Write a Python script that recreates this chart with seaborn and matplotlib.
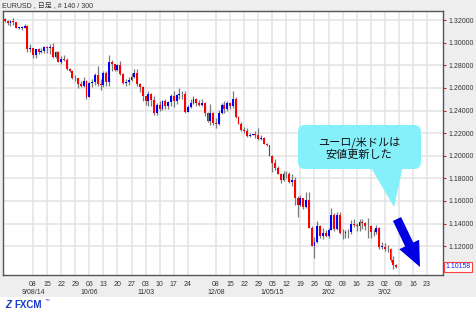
import numpy as np
import pandas as pd
import seaborn as sns
import matplotlib
matplotlib.use("Agg")
import matplotlib.pyplot as plt
from matplotlib.patches import FancyBboxPatch, Polygon, FancyArrow, Rectangle
from matplotlib import transforms

# ---------------- data (EUR/USD daily candles) ----------------
first_day = "2014-08-25"
opens = [1.3205, 1.3190, 1.3170, 1.3190, 1.3180, 1.3130, 1.3130, 1.3130, 1.3150, 1.2945,
         1.2950, 1.2895, 1.2940, 1.2920, 1.2925, 1.2960, 1.2950, 1.2960, 1.2870, 1.2920,
         1.2830, 1.2855, 1.2850, 1.2765, 1.2750, 1.2685, 1.2685, 1.2630, 1.2620, 1.2665,
         1.2515, 1.2645, 1.2650, 1.2710, 1.2630, 1.2625, 1.2735, 1.2650, 1.2825, 1.2810,
         1.2760, 1.2800, 1.2720, 1.2645, 1.2650, 1.2670, 1.2700, 1.2735, 1.2630, 1.2610,
         1.2525, 1.2480, 1.2545, 1.2490, 1.2375, 1.2450, 1.2410, 1.2480, 1.2440, 1.2475,
         1.2525, 1.2480, 1.2535, 1.2545, 1.2545, 1.2390, 1.2435, 1.2470, 1.2505, 1.2465,
         1.2450, 1.2470, 1.2380, 1.2310, 1.2380, 1.2290, 1.2285, 1.2380, 1.2450, 1.2410,
         1.2465, 1.2440, 1.2505, 1.2345, 1.2285, 1.2225, 1.2220, 1.2175, 1.2185, 1.2190,
         1.2185, 1.2150, 1.2155, 1.2100, 1.2095, 1.2000, 1.1935, 1.1890, 1.1840, 1.1790,
         1.1840, 1.1835, 1.1770, 1.1785, 1.1630, 1.1565, 1.1625, 1.1545, 1.1610, 1.1365,
         1.1205, 1.1240, 1.1380, 1.1290, 1.1320, 1.1290, 1.1345, 1.1480, 1.1350, 1.1475,
         1.1315, 1.1320, 1.1325, 1.1330, 1.1400, 1.1390, 1.1375, 1.1410, 1.1405, 1.1375,
         1.1380, 1.1325, 1.1330, 1.1365, 1.1195, 1.1195, 1.1180, 1.1175, 1.1075, 1.1030]
highs = [1.3215, 1.3200, 1.3200, 1.3222, 1.3185, 1.3140, 1.3145, 1.3165, 1.3160, 1.2990,
         1.2955, 1.2945, 1.2950, 1.2950, 1.2970, 1.2970, 1.2990, 1.2995, 1.2930, 1.2925,
         1.2880, 1.2895, 1.2865, 1.2775, 1.2760, 1.2715, 1.2690, 1.2665, 1.2700, 1.2670,
         1.2650, 1.2680, 1.2735, 1.2790, 1.2675, 1.2750, 1.2750, 1.2887, 1.2845, 1.2815,
         1.2815, 1.2840, 1.2735, 1.2680, 1.2700, 1.2730, 1.2765, 1.2770, 1.2645, 1.2615,
         1.2530, 1.2575, 1.2555, 1.2530, 1.2470, 1.2480, 1.2495, 1.2500, 1.2480, 1.2545,
         1.2575, 1.2545, 1.2600, 1.2570, 1.2575, 1.2450, 1.2500, 1.2530, 1.2510, 1.2490,
         1.2500, 1.2475, 1.2390, 1.2455, 1.2390, 1.2330, 1.2405, 1.2465, 1.2480, 1.2480,
         1.2475, 1.2570, 1.2515, 1.2350, 1.2295, 1.2250, 1.2245, 1.2200, 1.2195, 1.2220,
         1.2245, 1.2185, 1.2165, 1.2110, 1.2095, 1.2010, 1.1970, 1.1905, 1.1850, 1.1865,
         1.1865, 1.1860, 1.1840, 1.1810, 1.1645, 1.1650, 1.1630, 1.1680, 1.1680, 1.1375,
         1.1280, 1.1425, 1.1385, 1.1365, 1.1345, 1.1365, 1.1535, 1.1495, 1.1500, 1.1500,
         1.1350, 1.1340, 1.1350, 1.1430, 1.1445, 1.1405, 1.1445, 1.1445, 1.1415, 1.1450,
         1.1390, 1.1355, 1.1390, 1.1370, 1.1240, 1.1225, 1.1210, 1.1185, 1.1115, 1.1040]
lows = [1.3180, 1.3160, 1.3150, 1.3155, 1.3130, 1.3120, 1.3110, 1.3125, 1.2920, 1.2920,
        1.2860, 1.2860, 1.2900, 1.2910, 1.2910, 1.2910, 1.2900, 1.2860, 1.2860, 1.2825,
        1.2815, 1.2835, 1.2760, 1.2740, 1.2680, 1.2660, 1.2600, 1.2610, 1.2605, 1.2500,
        1.2515, 1.2610, 1.2625, 1.2620, 1.2580, 1.2610, 1.2620, 1.2620, 1.2745, 1.2745,
        1.2750, 1.2715, 1.2635, 1.2615, 1.2625, 1.2660, 1.2685, 1.2615, 1.2565, 1.2485,
        1.2445, 1.2440, 1.2440, 1.2360, 1.2357, 1.2395, 1.2405, 1.2415, 1.2415, 1.2440,
        1.2435, 1.2460, 1.2500, 1.2505, 1.2375, 1.2385, 1.2420, 1.2460, 1.2440, 1.2440,
        1.2440, 1.2355, 1.2300, 1.2275, 1.2270, 1.2245, 1.2270, 1.2370, 1.2375, 1.2400,
        1.2410, 1.2420, 1.2335, 1.2285, 1.2220, 1.2205, 1.2165, 1.2165, 1.2180, 1.2160,
        1.2140, 1.2135, 1.2100, 1.2085, 1.1995, 1.1860, 1.1875, 1.1835, 1.1755, 1.1780,
        1.1800, 1.1755, 1.1730, 1.1565, 1.1460, 1.1555, 1.1530, 1.1540, 1.1365, 1.1200,
        1.1100, 1.1225, 1.1275, 1.1260, 1.1280, 1.1270, 1.1340, 1.1335, 1.1340, 1.1310,
        1.1265, 1.1270, 1.1275, 1.1310, 1.1370, 1.1335, 1.1335, 1.1355, 1.1340, 1.1275,
        1.1270, 1.1290, 1.1310, 1.1180, 1.1175, 1.1160, 1.1150, 1.1065, 1.1000, 1.1010]
closes = [1.3190, 1.3170, 1.3190, 1.3180, 1.3130, 1.3130, 1.3130, 1.3150, 1.2945, 1.2950,
          1.2895, 1.2940, 1.2920, 1.2925, 1.2960, 1.2950, 1.2960, 1.2870, 1.2920, 1.2830,
          1.2855, 1.2850, 1.2765, 1.2750, 1.2685, 1.2685, 1.2630, 1.2620, 1.2665, 1.2515,
          1.2645, 1.2650, 1.2710, 1.2630, 1.2625, 1.2735, 1.2650, 1.2825, 1.2810, 1.2760,
          1.2800, 1.2720, 1.2645, 1.2650, 1.2670, 1.2700, 1.2735, 1.2630, 1.2610, 1.2525,
          1.2480, 1.2545, 1.2490, 1.2375, 1.2450, 1.2410, 1.2480, 1.2440, 1.2475, 1.2525,
          1.2480, 1.2535, 1.2545, 1.2545, 1.2390, 1.2435, 1.2470, 1.2505, 1.2465, 1.2450,
          1.2470, 1.2380, 1.2310, 1.2380, 1.2290, 1.2285, 1.2380, 1.2450, 1.2410, 1.2465,
          1.2440, 1.2505, 1.2345, 1.2285, 1.2225, 1.2220, 1.2175, 1.2185, 1.2190, 1.2185,
          1.2150, 1.2155, 1.2100, 1.2095, 1.2000, 1.1935, 1.1890, 1.1840, 1.1790, 1.1840,
          1.1835, 1.1770, 1.1785, 1.1630, 1.1565, 1.1625, 1.1545, 1.1610, 1.1365, 1.1205,
          1.1240, 1.1380, 1.1290, 1.1320, 1.1290, 1.1345, 1.1480, 1.1350, 1.1475, 1.1315,
          1.1320, 1.1325, 1.1330, 1.1400, 1.1390, 1.1375, 1.1410, 1.1405, 1.1375, 1.1380,
          1.1325, 1.1330, 1.1365, 1.1195, 1.1195, 1.1180, 1.1175, 1.1075, 1.1030, 1.10158]

price_ticks = [1.12, 1.14, 1.16, 1.18, 1.20, 1.22, 1.24, 1.26, 1.28, 1.30, 1.32]
week_ticks = ["2014-09-08", "2014-09-15", "2014-09-22", "2014-09-29", "2014-10-06", "2014-10-13",
              "2014-10-20", "2014-10-27", "2014-11-03", "2014-11-10", "2014-11-17", "2014-11-24",
              "2014-12-08", "2014-12-15", "2014-12-22", "2014-12-29", "2015-01-05", "2015-01-12",
              "2015-01-19", "2015-01-26", "2015-02-02", "2015-02-09", "2015-02-16", "2015-02-23",
              "2015-03-02", "2015-03-09", "2015-03-16", "2015-03-23"]
month_ticks = ["2014-09-08", "2014-10-06", "2014-11-03", "2014-12-08", "2015-01-05", "2015-02-02", "2015-03-02"]
month_labels = ["9/08/14", "10/06", "11/03", "12/08", "1/05/15", "2/02", "3/02"]
title = "EURUSD , 日足 , # 140 / 300"
last_price_label = "1.10158"
callout_text = "ユーロ/米ドルは\n安値更新した"

# ---------------- figure ----------------
sns.set_theme(style="white")
plt.rcParams["font.family"] = ["Liberation Sans", "Noto Sans CJK JP", "DejaVu Sans"]

W, H = 476, 313
fig = plt.figure(figsize=(W / 100, H / 100), dpi=100, facecolor="#eeeeee")
px = transforms.Affine2D().scale(1, -1).translate(0, H)  # pixel coords from top-left

fig.add_artist(Rectangle((0, 297), W, 16, transform=px, facecolor="white", edgecolor="none", zorder=0))

ax = fig.add_axes([3 / W, 1 - 275 / H, 440 / W, 264 / H])
ax.set_facecolor("white")

calendar = pd.bdate_range(first_day, "2015-03-31")
pos = {d: i for i, d in enumerate(calendar)}
n = len(closes)
x = np.arange(n)
o = np.array(opens); h = np.array(highs); l = np.array(lows); c = np.array(closes)

df = pd.DataFrame({"x": x, "open": o, "high": h, "low": l, "close": c})

ax.vlines(df["x"], df["low"], df["high"], color="#7a7a7a", lw=0.9, zorder=3)
bottoms = np.minimum(o, c)
heights = np.maximum(np.abs(c - o), 0.0004)
colors = np.where(c >= o, "#0000ff", "#ff0000")
ax.bar(x, heights, bottom=bottoms, width=0.68, color=colors, linewidth=0, zorder=4)

ax.set_ylim(1.09458, 1.32796)
x0 = pos[pd.Timestamp("2014-09-08")]
ax.set_xlim(x0 - 10.66, x0 + 145.65)

wt = [pos[pd.Timestamp(d)] for d in week_ticks]
ax.set_xticks(wt, [pd.Timestamp(d).strftime("%d") for d in week_ticks])
ax.yaxis.tick_right()
ax.set_yticks(price_ticks, [f"{v:.5f}" for v in price_ticks])
ax.tick_params(axis="both", which="major", labelsize=5, colors="#d02020",
               labelcolor="#333333", length=2.2, width=0.8, direction="out", pad=1.5)
ax.tick_params(axis="x", pad=2.0)
ax.grid(True, color="#e3e3e3", lw=1.1, zorder=0)
ax.set_axisbelow(True)
for s in ax.spines.values():
    s.set_color("#555555"); s.set_linewidth(1.0); s.set_visible(True)

tr = transforms.blended_transform_factory(ax.transData, px)
for d, lab in zip(month_ticks, month_labels):
    ax.text(pos[pd.Timestamp(d)], 292, lab, transform=tr, ha="center", va="center",
            fontsize=5, color="#333333", clip_on=False)

fig.text(2 / W, 1 - 6 / H, title, fontsize=5, color="#333333", va="center", ha="left")

# last price box
fig.text(458 / W, 1 - 267 / H, last_price_label, fontsize=5, color="#2020ff", ha="center", va="center",
         bbox=dict(boxstyle="square,pad=0.15", facecolor="white", edgecolor="#ff4040", lw=0.8))

# callout
cyan = "#85f0fa"
fig.add_artist(Polygon([(370, 166), (403, 166), (394, 207)], closed=True, transform=px,
                       facecolor=cyan, edgecolor="none", zorder=5))
fig.add_artist(FancyBboxPatch((298, 125), 123, 44, boxstyle="round,pad=0,rounding_size=7",
                              transform=px, facecolor=cyan, edgecolor="none", zorder=5))
fig.text(359 / W, 1 - 148 / H, callout_text, fontsize=8, ha="center", va="center",
         color="#111111", linespacing=1.25, zorder=6,
         family=["Noto Sans CJK JP", "DejaVu Sans"])

# blue arrow
fig.add_artist(FancyArrow(397, 219, 23, 48, width=9, head_width=22, head_length=25,
                          length_includes_head=True, transform=px, facecolor="#0000e0",
                          edgecolor="none", zorder=6))

# FXCM logo
fig.text(5 / W, 1 - 305 / H, "Z", fontsize=7, fontweight="bold", style="italic", color="#1a3cc8",
         ha="left", va="center")
fig.text(14 / W, 1 - 305 / H, "FXCM", fontsize=7, fontweight="bold", color="#1a3cc8",
         ha="left", va="center")
fig.text(45 / W, 1 - 300 / H, "™", fontsize=3.5, color="#1a3cc8", ha="left", va="center")

fig.savefig("out.png", dpi=100, facecolor=fig.get_facecolor())
